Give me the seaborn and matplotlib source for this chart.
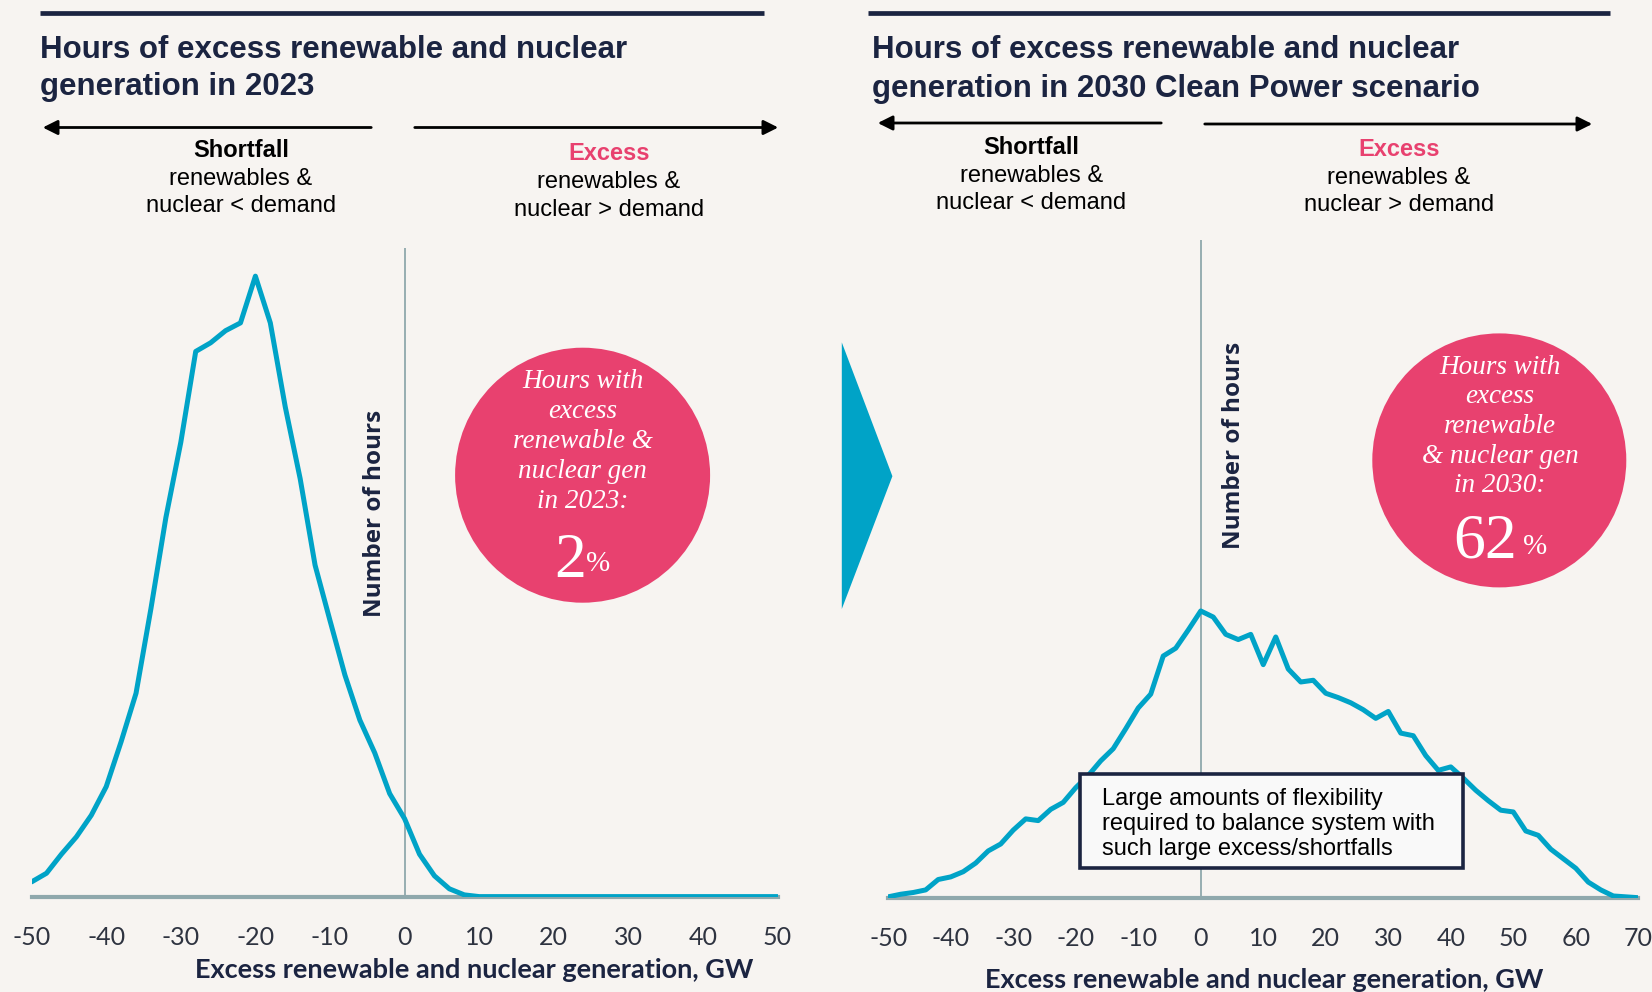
import numpy as np
import pandas as pd
import matplotlib
matplotlib.use('Agg')
import matplotlib.pyplot as plt
from matplotlib.patches import Circle, Polygon, Rectangle
import seaborn as sns

# ─────────────────────────────────────────
# DATA  (hours per 2 GW bin)
# ─────────────────────────────────────────
gw_2023 = list(range(-50, 51, 2))
hours_2023 = [17, 27, 49, 69, 94, 127, 179, 235, 333, 438,
              525, 630, 640, 654, 663, 717, 663, 566, 483, 383,
              319, 256, 204, 166, 119, 90, 49, 24, 9, 2,
              0, 0, 0, 0, 0, 0, 0, 0, 0, 0,
              0, 0, 0, 0, 0, 0, 0, 0, 0, 0, 0]

gw_2030 = list(range(-50, 71, 2))
hours_2030 = [1, 4, 6, 9, 21, 24, 30, 40, 54, 62,
              78, 91, 89, 102, 110, 127, 141, 158, 172, 195,
              219, 235, 279, 288, 309, 331, 324, 304, 298, 304,
              269, 301, 264, 249, 251, 236, 231, 225, 217, 207,
              215, 190, 187, 164, 147, 151, 138, 124, 112, 101,
              99, 77, 72, 56, 45, 34, 18, 9, 2, 1, 0]

ticks_2023 = list(range(-50, 51, 10))
ticks_2030 = list(range(-50, 71, 10))

titles = ["Hours of excess renewable and nuclear\ngeneration in 2023",
          "Hours of excess renewable and nuclear\ngeneration in 2030 Clean Power scenario"]
circle_texts = ["Hours with\nexcess\nrenewable &\nnuclear gen\nin 2023:",
                "Hours with\nexcess\nrenewable\n& nuclear gen\nin 2030:"]
circle_pcts = ["2", "62"]
xlabel = "Excess renewable and nuclear generation, GW"
ylabel = "Number of hours"
note = "Large amounts of flexibility\nrequired to balance system with\nsuch large excess/shortfalls"

# ─────────────────────────────────────────
# STYLE
# ─────────────────────────────────────────
BG     = '#F7F4F1'
NAVY   = '#1B2441'
PINK   = '#E8416F'
TEAL   = '#00A3C7'
AXGREY = '#8FA8AC'

sns.set_theme(style='white')
plt.rcParams['font.family'] = ['Liberation Sans', 'DejaVu Sans']
plt.rcParams['axes.unicode_minus'] = False

W, H = 1652, 992
fig = plt.figure(figsize=(W / 100, H / 100), dpi=100, facecolor=BG)


def px_axes(x0, y_base, x1, y_top):
    """axes from pixel box (top-left origin)"""
    return fig.add_axes([x0 / W, 1 - y_base / H, (x1 - x0) / W, (y_base - y_top) / H])


def style_panel(ax, xs, ys, ticks, ymax, xlim):
    ax.set_facecolor('none')
    df = pd.DataFrame({'gw': xs, 'hours': ys})
    sns.lineplot(data=df, x='gw', y='hours', ax=ax, color=TEAL, lw=3.6, zorder=3)
    ax.axvline(0, color=AXGREY, lw=1.3, zorder=1)
    ax.set_xlim(*xlim)
    ax.set_ylim(0, ymax)
    ax.set_xticks(ticks)
    ax.set_xticklabels([str(t) for t in ticks])
    for lab in ax.get_xticklabels():
        lab.set_fontfamily('Lato')
        lab.set_fontweight('normal')
        lab.set_fontsize(18)
        lab.set_color('#2E3340')
    ax.set_yticks([])
    ax.tick_params(axis='x', length=0, pad=21)
    for s in ['top', 'right', 'left']:
        ax.spines[s].set_visible(False)
    ax.spines['bottom'].set_color(AXGREY)
    ax.spines['bottom'].set_linewidth(3)
    ax.set_xlabel('')
    ax.set_ylabel('')


ax1 = px_axes(31.6, 896.6, 777.6, 247.6)
style_panel(ax1, gw_2023, hours_2023, ticks_2023, 750, (-50, 50))

ax2 = px_axes(888.2, 897.7, 1638.3, 240.2)
style_panel(ax2, gw_2030, hours_2030, ticks_2030, 759, (-50, 70))

# ─────────────────────────────────────────
# OVERLAY (pixel coordinates) for titles, arrows, circles
# ─────────────────────────────────────────
ov = fig.add_axes([0, 0, 1, 1])
ov.set_xlim(0, W)
ov.set_ylim(H, 0)
ov.axis('off')
ov.patch.set_alpha(0)

panels = [
    dict(bar=(40, 764), tx=40, ty=(49.5, 87.5),
         la=(374, 40, 127.5), ra=(412, 781, 127.5),
         sf=(241, 150.7), ex=(609, 153.8),
         yl=(375, 513), xl=(474, 970),
         circ=(582.6, 475.2, 127.5), ctext=(582.6, 441.5),
         pct=(570, 562), pcts=(598, 564)),
    dict(bar=(868, 1610), tx=872, ty=(50.5, 88.5),
         la=(1164, 875, 123), ra=(1202, 1595, 124),
         sf=(1031.5, 147.5), ex=(1399, 149.6),
         yl=(1233.7, 445.7), xl=(1264, 980),
         circ=(1499.3, 460.4, 127), ctext=(1500, 426.5),
         pct=(1485, 543), pcts=(1535, 547)),
]

for i, p in enumerate(panels):
    # top rule
    ov.plot(p['bar'], [12.6, 12.6], color=NAVY, lw=3.4, solid_capstyle='butt')
    # title
    for line, y in zip(titles[i].split('\n'), p['ty']):
        ov.text(p['tx'], y, line, fontsize=22.5, fontweight='bold', color=NAVY,
                ha='left', va='center')
    # arrows
    x0, x1, y = p['la']
    ov.annotate('', xy=(x1, y), xytext=(x0, y),
                arrowprops=dict(arrowstyle='-|>', color='black', lw=2, mutation_scale=22))
    x0, x1, y = p['ra']
    ov.annotate('', xy=(x1, y), xytext=(x0, y),
                arrowprops=dict(arrowstyle='-|>', color='black', lw=2, mutation_scale=22))
    # shortfall / excess labels
    sx, sy = p['sf']
    ov.text(sx, sy, 'Shortfall', fontsize=17, fontweight='bold', color='black', ha='center', va='center')
    ov.text(sx, sy + 28.4, 'renewables &', fontsize=17, color='black', ha='center', va='center')
    ov.text(sx, sy + 55.8, 'nuclear < demand', fontsize=17, color='black', ha='center', va='center')
    ex, ey = p['ex']
    ov.text(ex, ey, 'Excess', fontsize=17, fontweight='bold', color=PINK, ha='center', va='center')
    ov.text(ex, ey + 28.4, 'renewables &', fontsize=17, color='black', ha='center', va='center')
    ov.text(ex, ey + 55.8, 'nuclear > demand', fontsize=17, color='black', ha='center', va='center')
    # axis labels
    ov.text(*p['yl'], ylabel, rotation=90, fontsize=17.5, fontweight='bold', color=NAVY,
            family='Open Sans', ha='center', va='center')
    ov.text(*p['xl'], xlabel, fontsize=19.5, fontweight='bold', color=NAVY,
            family='Lato', ha='center', va='center')
    # pink circle
    cx, cy, r = p['circ']
    ov.add_patch(Circle((cx, cy), r, color=PINK, lw=0))
    ov.text(*p['ctext'], circle_texts[i], fontsize=19.5, style='italic', color='white',
            family='Liberation Serif', ha='center', va='center', linespacing=1.25)
    ov.text(*p['pct'], circle_pcts[i], fontsize=46, color='white',
            family='Liberation Serif', ha='center', va='center')
    ov.text(*p['pcts'], '%', fontsize=21, color='white',
            family='Liberation Serif', ha='center', va='center')

# middle chevron
ov.add_patch(Polygon([(841.8, 342.4), (892.4, 476.2), (841.8, 609)], closed=True,
                     color=TEAL, lw=0))

# note box on the 2030 panel
ov.add_patch(Rectangle((1080, 774), 383, 94, facecolor='#F9F9F9', edgecolor=NAVY,
                       lw=2.6, zorder=5))
ov.text(1102, 824, note, fontsize=17, color='black', ha='left', va='center',
        linespacing=1.18, zorder=6)

fig.savefig('out.png', dpi=100, facecolor=BG)
